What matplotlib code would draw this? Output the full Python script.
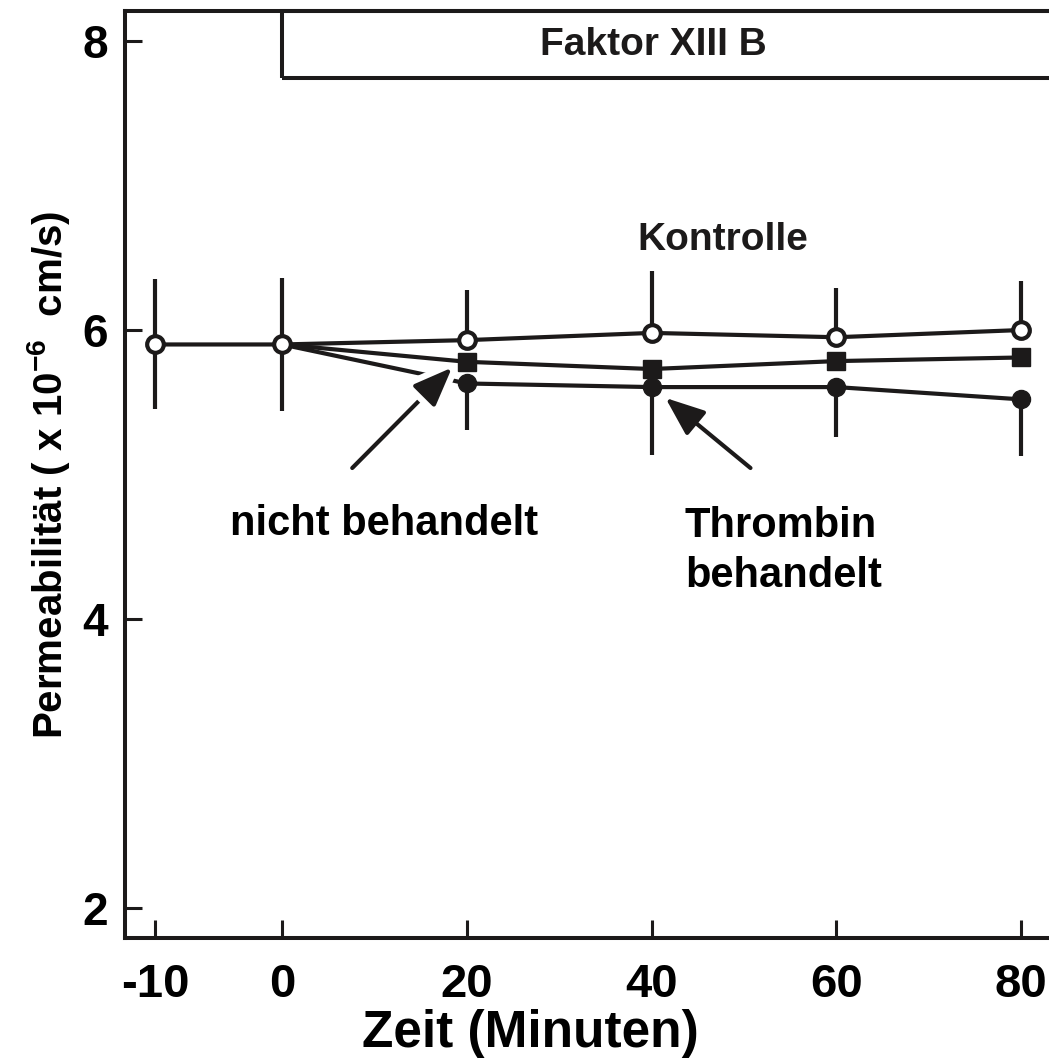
import numpy as np
import matplotlib
matplotlib.use("Agg")
import matplotlib.pyplot as plt
from matplotlib.patches import Rectangle
import matplotlib.patheffects as pe

plt.rcParams['font.family'] = ['Liberation Sans', 'DejaVu Sans']
plt.rcParams['mathtext.fontset'] = 'custom'
plt.rcParams['mathtext.rm'] = 'Liberation Sans:bold'
plt.rcParams['mathtext.bf'] = 'Liberation Sans:bold'
plt.rcParams['mathtext.default'] = 'bf'

# data
zeit = [-10, 0, 20, 40, 60, 80]
kontrolle = [5.90, 5.90, 5.93, 5.98, 5.95, 6.00]
kontrolle_oben = [6.35, 6.36, 6.28, 6.41, 6.29, 6.34]
kontrolle_unten = [5.45, 5.44, None, None, None, None]

zeit_beh = [0, 20, 40, 60, 80]
nicht_behandelt = [5.90, 5.78, 5.73, 5.785, 5.81]
thrombin = [5.90, 5.63, 5.605, 5.605, 5.52]
thrombin_unten = [None, 5.31, 5.135, 5.26, 5.13]

xticks = [-10, 0, 20, 40, 60, 80]
yticks = [2, 4, 6, 8]

ink = '#1c1a1a'


def fwd(x):
    x = np.asarray(x, dtype=float)
    return np.where(x < 0, x * 1.375, x)


def inv(x):
    x = np.asarray(x, dtype=float)
    return np.where(x < 0, x / 1.375, x)


fig = plt.figure(figsize=(10.49, 10.60), dpi=100)
ax = fig.add_axes([125 / 1049, 122 / 1060, 935 / 1049, 927 / 1060])
ax.set_xscale('function', functions=(fwd, inv))
ax.set_xlim(-12.36, 84.2)
ax.set_ylim(1.792, 8.208)

lw = 3.0

# error bars
k = np.array(kontrolle)
k_hi = np.array(kontrolle_oben) - k
k_lo = np.array([0 if v is None else m - v for m, v in zip(kontrolle, kontrolle_unten)])
ax.errorbar(zeit, kontrolle, yerr=[k_lo, k_hi], fmt='none', ecolor=ink,
            elinewidth=lw, capsize=0, zorder=1)
t = np.array(thrombin)
t_lo = np.array([0 if v is None else m - v for m, v in zip(thrombin, thrombin_unten)])
ax.errorbar(zeit_beh, thrombin, yerr=[t_lo, np.zeros_like(t)], fmt='none',
            ecolor=ink, elinewidth=lw, capsize=0, zorder=1)

# series
ax.plot(zeit_beh, thrombin, color=ink, lw=lw, marker='o', ms=13, mfc=ink,
        mec=ink, mew=1, markevery=slice(1, None), zorder=2)
ax.plot(zeit_beh, nicht_behandelt, color=ink, lw=lw, marker='s', ms=13.5, mfc=ink,
        mec=ink, mew=1, markevery=slice(1, None), zorder=3)
ax.plot(zeit, kontrolle, color=ink, lw=lw, marker='o', ms=12, mfc='white',
        mec=ink, mew=3, zorder=4)

# arrows + labels
astyle = '-|>,head_length=2.4,head_width=0.95'
halo = [pe.Stroke(linewidth=12, foreground='white'), pe.Normal()]
ax.annotate('', xy=(18.4, 5.74), xytext=(7.6, 5.045),
            arrowprops=dict(arrowstyle=astyle, color=ink, lw=3, shrinkA=0,
                            shrinkB=0, path_effects=halo), zorder=5)
ax.annotate('', xy=(41.5, 5.53), xytext=(50.7, 5.045),
            arrowprops=dict(arrowstyle=astyle, color=ink, lw=3, shrinkA=0,
                            shrinkB=0), zorder=5)

ax.text(11.0, 4.66, 'nicht behandelt', fontsize=30, fontweight='bold',
        ha='center', va='center', color='black')
ax.text(43.6, 4.47, 'Thrombin\nbehandelt', fontsize=30, fontweight='bold',
        ha='left', va='center', linespacing=1.32, color='black')
ax.text(47.7, 6.62, 'Kontrolle', fontsize=28, fontweight='bold',
        ha='center', va='center', color=ink)

# Faktor XIII B box
box = Rectangle((0, 7.744), 100, 8.208 - 7.744, fill=False, edgecolor=ink,
                lw=2.9, clip_on=False, zorder=6)
ax.add_patch(box)
ax.text(40.2, 7.975, 'Faktor XIII B', fontsize=28, fontweight='bold',
        ha='center', va='center', color=ink)

# axes styling
for side in ['left', 'bottom', 'top']:
    ax.spines[side].set_linewidth(2.9)
    ax.spines[side].set_color(ink)
ax.spines['right'].set_visible(False)

ax.set_xticks(xticks)
ax.set_xticklabels([str(v) for v in xticks])
ax.set_yticks(yticks)
ax.set_yticklabels([str(v) for v in yticks])
ax.minorticks_off()
ax.tick_params(axis='x', direction='in', length=13, width=2.2, pad=18,
               labelsize=34, color=ink)
ax.tick_params(axis='y', direction='in', length=12, width=2.2, pad=12,
               labelsize=33, color=ink)
for lab in ax.get_xticklabels() + ax.get_yticklabels():
    lab.set_fontweight('bold')

ax.set_xlabel('Zeit (Minuten)', fontsize=37, fontweight='bold')
ax.xaxis.set_label_coords(0.434, -0.1175)
ax.xaxis.label.set_va('baseline')
ax.set_ylabel('Permeabilität ( x 10$^{-6}$  cm/s)', fontsize=29,
              fontweight='bold', labelpad=8)

fig.savefig('out.png', dpi=100)
